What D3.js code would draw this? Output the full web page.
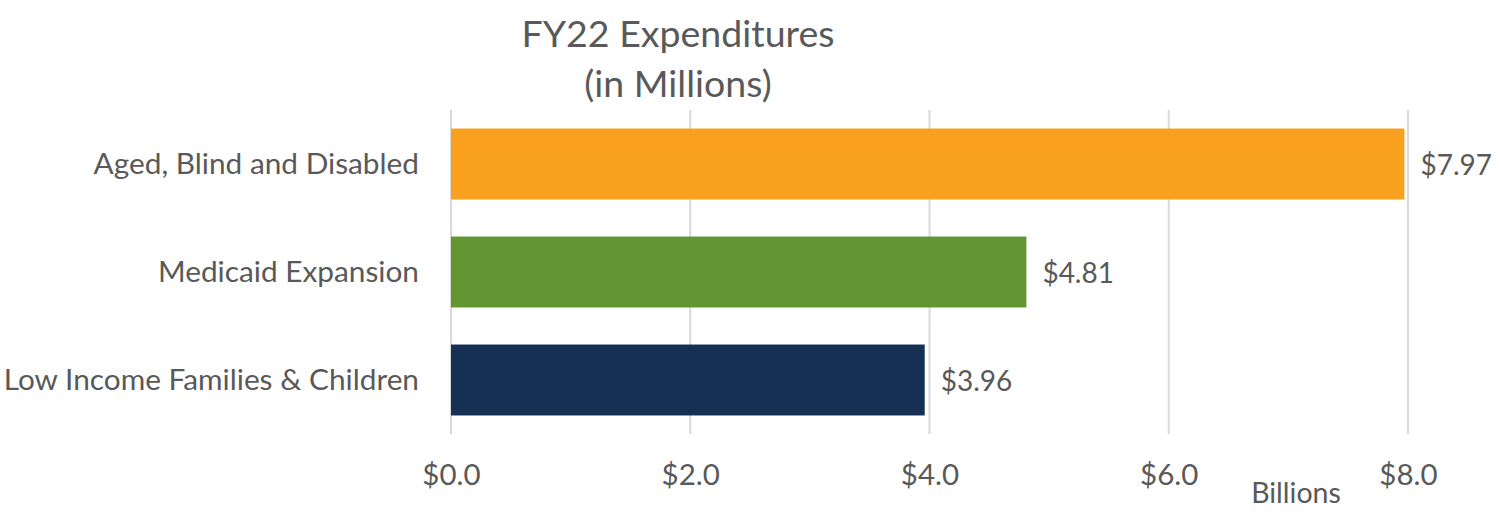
<!DOCTYPE html>
<html>
<head>
<meta charset="utf-8">
<script src="https://cdn.jsdelivr.net/npm/d3@7"></script>
<style>
  body { margin: 0; background: #fff; }
  text { font-family: Lato, "Open Sans", sans-serif; fill: #595959; }
</style>
</head>
<body>
<div id="chart"></div>
<script>
var categories = ["Aged, Blind and Disabled", "Medicaid Expansion", "Low Income Families & Children"];
var values = [7.97, 4.81, 3.96];
var colors = ["#F9A01E", "#629632", "#163054"];
var xTicks = [0, 2, 4, 6, 8];
var titleLines = ["FY22 Expenditures", "(in Millions)"];

var W = 1499, H = 512;
var plot = {left: 451, right: 1408, top: 110, bottom: 434};
var font = "Lato, 'Open Sans', sans-serif";

var svg = d3.select("#chart").append("svg")
    .attr("width", W)
    .attr("height", H);

var x = d3.scaleLinear().domain([0, 8]).range([plot.left, plot.right]);
var y = d3.scaleBand().domain(categories)
    .range([plot.top, plot.bottom])
    .paddingInner(0.343).paddingOuter(0.1715);

// gridlines
svg.append("g").selectAll("line")
    .data(xTicks).enter().append("line")
    .attr("x1", function(d){ return x(d); })
    .attr("x2", function(d){ return x(d); })
    .attr("y1", plot.top).attr("y2", plot.bottom)
    .attr("stroke", "#d9d9d9").attr("stroke-width", 2);

// bars
svg.append("g").selectAll("rect")
    .data(values).enter().append("rect")
    .attr("x", x(0))
    .attr("y", function(d, i){ return y(categories[i]); })
    .attr("width", function(d){ return x(d) - x(0); })
    .attr("height", y.bandwidth())
    .attr("fill", function(d, i){ return colors[i]; });

// value labels
svg.append("g").selectAll("text")
    .data(values).enter().append("text")
    .attr("x", function(d){ return x(d) + 16; })
    .attr("y", function(d, i){ return y(categories[i]) + y.bandwidth() / 2 + 1; })
    .attr("dy", "0.35em")
    .style("font-size", "28px")
    .text(function(d){ return "$" + d.toFixed(2); });

// category axis
var yAxis = d3.axisLeft(y).tickSize(0).tickPadding(32);
var gY = svg.append("g")
    .attr("transform", "translate(" + plot.left + ",0)")
    .call(yAxis);
gY.select(".domain").remove();
gY.selectAll("text").style("font-size", "29.8px").style("fill", "#595959")
    .style("font-family", font);

// value axis
var xAxis = d3.axisBottom(x).tickValues(xTicks).tickSize(0).tickPadding(0)
    .tickFormat(function(d){ return "$" + d.toFixed(1); });
var gX = svg.append("g")
    .attr("transform", "translate(0,485)")
    .call(xAxis);
gX.select(".domain").remove();
gX.selectAll("text").attr("dy", null).style("font-size", "29.5px").style("fill", "#595959")
    .style("font-family", font);

// axis unit
svg.append("text")
    .attr("x", 1296).attr("y", 503)
    .attr("text-anchor", "middle")
    .style("font-size", "28.5px")
    .text("Billions");

// title
svg.append("g").selectAll("text")
    .data(titleLines).enter().append("text")
    .attr("x", 678)
    .attr("y", function(d, i){ return 47 + i * 50; })
    .attr("text-anchor", "middle")
    .style("font-size", "37.5px")
    .text(function(d){ return d; });
</script>
</body>
</html>
